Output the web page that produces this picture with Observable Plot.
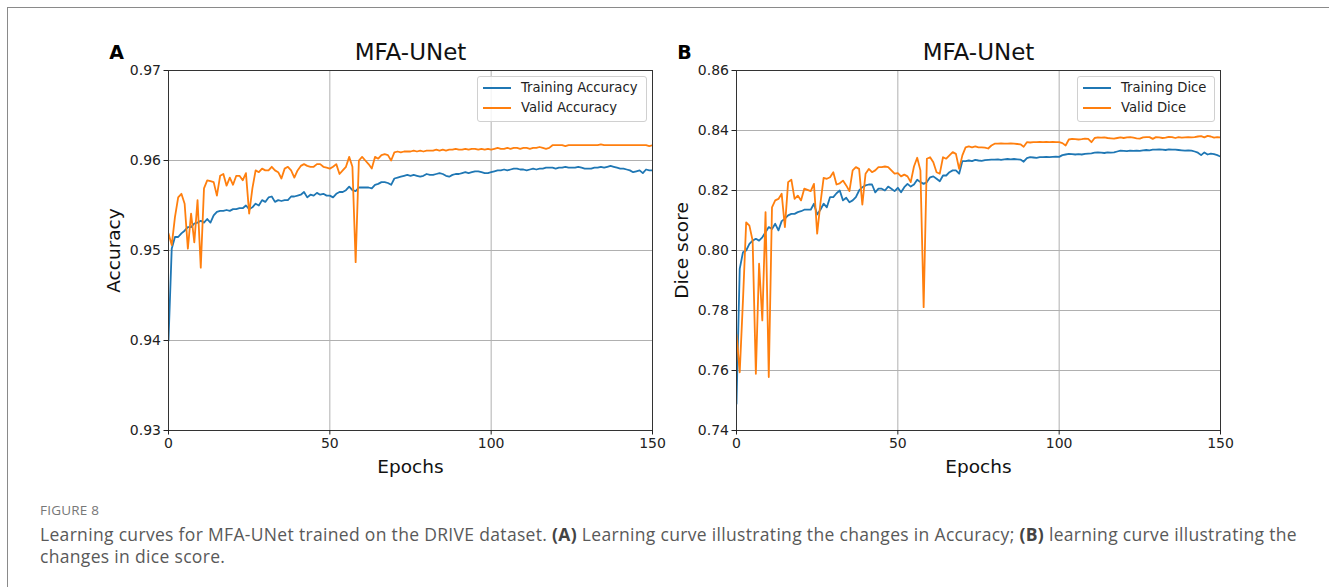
<!DOCTYPE html>
<html>
<head>
<meta charset="utf-8">
<script src="https://cdn.jsdelivr.net/npm/d3@7"></script>
<script src="https://cdn.jsdelivr.net/npm/@observablehq/plot@0.6"></script>
<style>
  html, body { margin: 0; padding: 0; background: #fff; }
  #page { position: relative; width: 1329px; height: 587px; overflow: hidden; background: #fff; }
  #frameBox { position: absolute; left: 7px; top: 7px; right: -10px; bottom: -10px; border-left: 1.5px solid #8a8a8a; border-top: 1.5px solid #8a8a8a; }
  .panel { position: absolute; top: 0; }
  .legend { position: absolute; background: rgba(255,255,255,0.85); border: 1px solid #d0d0d0; border-radius: 3px; font-family: "DejaVu Sans", sans-serif; font-size: 13.2px; color: #222; }
  .legend .row { position: absolute; left: 0; height: 20px; line-height: 20px; white-space: nowrap; }
  .legend .sw { position: absolute; width: 28px; height: 0; border-top: 2px solid; }
  .legend .lab { position: absolute; }
  #figlabel { position: absolute; left: 40px; top: 501px; font-family: "Open Sans", sans-serif; font-size: 13.5px; color: #777; letter-spacing: 0.2px; }
  #caption { position: absolute; left: 40px; top: 523px; font-family: "Open Sans", sans-serif; font-size: 17.5px; line-height: 22px; color: #595959; white-space: nowrap; }
  #caption b { color: #444; }
</style>
</head>
<body>
<div id="page">
  <div id="frameBox"></div>
  <div id="panelA" class="panel" style="left:0px"></div>
  <div id="panelB" class="panel" style="left:664px"></div>
  <div id="legendA" class="legend"></div>
  <div id="legendB" class="legend"></div>
  <div id="figlabel">FIGURE 8</div>
  <div id="caption"></div>
</div>
<script>
// ---- Data ----
const panelLetters = ["A", "B"];
const panelTitle = "MFA-UNet";
const xTicks = [0, 50, 100, 150];
const yTicksA = [0.93, 0.94, 0.95, 0.96, 0.97];
const yTicksB = [0.74, 0.76, 0.78, 0.80, 0.82, 0.84, 0.86];
const seriesNamesA = ["Training Accuracy", "Valid Accuracy"];
const seriesNamesB = ["Training Dice", "Valid Dice"];
const yLabels = ["Accuracy", "Dice score"];
const xLabel = "Epochs";

const trainAcc = [
  0.9400, 0.9502, 0.9515, 0.9515, 0.9519, 0.9522, 0.9526, 0.9526, 0.9530, 0.9531,
  0.9533, 0.9531, 0.9535, 0.9531, 0.9539, 0.9543, 0.9544, 0.9544, 0.9545, 0.9544,
  0.9546, 0.9546, 0.9547, 0.9547, 0.9550, 0.9546, 0.9548, 0.9552, 0.9550, 0.9556,
  0.9554, 0.9559, 0.9560, 0.9554, 0.9556, 0.9555, 0.9556, 0.9556, 0.9560, 0.9560,
  0.9561, 0.9562, 0.9565, 0.9559, 0.9562, 0.9561, 0.9564, 0.9562, 0.9563, 0.9561,
  0.9561, 0.9559, 0.9563, 0.9565, 0.9565, 0.9567, 0.9571, 0.9567, 0.9566, 0.9570,
  0.9570, 0.9570, 0.9570, 0.9569, 0.9573, 0.9574, 0.9576, 0.9576, 0.9575, 0.9573,
  0.9580, 0.9581, 0.9582, 0.9583, 0.9584,
  0.9583, 0.9584, 0.9583, 0.9582, 0.9583, 0.9585,
  0.9584, 0.9584, 0.9585, 0.9586, 0.9585, 0.9583, 0.9582, 0.9584, 0.9585, 0.9585,
  0.9586, 0.9587, 0.9586, 0.9587, 0.9588, 0.9588, 0.9587, 0.9586, 0.9586, 0.9587,
  0.9588, 0.9589, 0.9589, 0.9590, 0.9589, 0.9590, 0.9591, 0.9591, 0.9590, 0.9590,
  0.9589, 0.9590, 0.9591, 0.9590, 0.9591, 0.9591, 0.9592, 0.9592, 0.9592, 0.9591,
  0.9592, 0.9592, 0.9593, 0.9592, 0.9592, 0.9592, 0.9593, 0.9592, 0.9591, 0.9591,
  0.9591, 0.9592, 0.9592, 0.9593, 0.9592, 0.9593, 0.9594, 0.9593, 0.9592, 0.9591,
  0.9591, 0.9590, 0.9589, 0.9587, 0.9588, 0.9589, 0.9586, 0.9590, 0.9589, 0.9589
];

const validAcc = [
  0.9519, 0.9506, 0.9537, 0.9559, 0.9563, 0.9552, 0.9502, 0.9541, 0.9509, 0.9556,
  0.9481, 0.9569, 0.9578, 0.9577, 0.9576, 0.9561, 0.9583, 0.9585, 0.9572, 0.9581,
  0.9573, 0.9583, 0.9583, 0.9578, 0.9586, 0.9541, 0.9569, 0.9589, 0.9587, 0.9591,
  0.9589, 0.9589, 0.9593, 0.9589, 0.9587, 0.9580, 0.9591, 0.9593, 0.9589, 0.9581,
  0.9589, 0.9594, 0.9596, 0.9594, 0.9593, 0.9593, 0.9596, 0.9596, 0.9593, 0.9592,
  0.9591, 0.9593, 0.9596, 0.9585, 0.9589, 0.9593, 0.9604, 0.9593, 0.9487, 0.9600,
  0.9604, 0.9600, 0.9596, 0.9591, 0.9604, 0.9602, 0.9606, 0.9607, 0.9606, 0.9600,
  0.9609, 0.9610, 0.9609, 0.9610, 0.9610,
  0.9610, 0.9611, 0.9610, 0.9611, 0.9610, 0.9611,
  0.9611, 0.9611, 0.9612, 0.9611, 0.9612, 0.9611, 0.9612, 0.9612, 0.9613, 0.9612,
  0.9612, 0.9613, 0.9612, 0.9613, 0.9613, 0.9612, 0.9613, 0.9612, 0.9613, 0.9612,
  0.9613, 0.9614, 0.9613, 0.9613, 0.9614, 0.9613, 0.9614, 0.9614, 0.9613, 0.9614,
  0.9614, 0.9613, 0.9614, 0.9614, 0.9615, 0.9614, 0.9613, 0.9614, 0.9617, 0.9617,
  0.9617, 0.9617, 0.9616, 0.9617, 0.9617, 0.9617, 0.9617, 0.9617, 0.9617, 0.9617,
  0.9617, 0.9617, 0.9617, 0.9618, 0.9617, 0.9617, 0.9617, 0.9617, 0.9617, 0.9617,
  0.9617, 0.9617, 0.9617, 0.9617, 0.9617, 0.9617, 0.9617, 0.9617, 0.9616, 0.9617
];

const trainDice = [
  0.7489, 0.7939, 0.7994, 0.8000, 0.8022, 0.8033, 0.8039, 0.8033, 0.8044, 0.8061,
  0.8078, 0.8072, 0.8089, 0.8067, 0.8098, 0.8106, 0.8117, 0.8122, 0.8122, 0.8128,
  0.8131, 0.8136, 0.8136, 0.8136, 0.8156, 0.8120, 0.8136, 0.8156, 0.8144, 0.8178,
  0.8178, 0.8191, 0.8200, 0.8167, 0.8176, 0.8161, 0.8167, 0.8178, 0.8200, 0.8211,
  0.8217, 0.8220, 0.8220, 0.8194, 0.8206, 0.8206, 0.8200, 0.8213, 0.8206, 0.8198,
  0.8209, 0.8194, 0.8211, 0.8222, 0.8213, 0.8220, 0.8236, 0.8228, 0.8222, 0.8228,
  0.8244, 0.8247, 0.8239, 0.8231, 0.8250, 0.8250, 0.8261, 0.8267, 0.8267, 0.8256,
  0.8298, 0.8298, 0.8300, 0.8298, 0.8302,
  0.8300, 0.8299, 0.8301, 0.8302, 0.8303, 0.8303,
  0.8304, 0.8302, 0.8304, 0.8305, 0.8304, 0.8305, 0.8304, 0.8303, 0.8296, 0.8308,
  0.8311, 0.8310, 0.8309, 0.8311, 0.8311, 0.8312, 0.8311, 0.8312, 0.8313, 0.8312,
  0.8318, 0.8320, 0.8322, 0.8321, 0.8320, 0.8321, 0.8320, 0.8322, 0.8323, 0.8324,
  0.8326, 0.8327, 0.8326, 0.8325, 0.8327, 0.8326, 0.8327, 0.8330, 0.8333, 0.8332,
  0.8331, 0.8333, 0.8332, 0.8333, 0.8332, 0.8334, 0.8335, 0.8334, 0.8336, 0.8336,
  0.8337, 0.8336, 0.8335, 0.8337, 0.8336, 0.8336, 0.8335, 0.8334, 0.8333, 0.8334,
  0.8333, 0.8330, 0.8326, 0.8318, 0.8327, 0.8320, 0.8323, 0.8321, 0.8318, 0.8313
];

const validDice = [
  0.7720, 0.7594, 0.7833, 0.8094, 0.8083, 0.8033, 0.7589, 0.7956, 0.7767, 0.8128,
  0.7578, 0.8144, 0.8167, 0.8172, 0.8189, 0.8078, 0.8228, 0.8236, 0.8172, 0.8183,
  0.8167, 0.8206, 0.8202, 0.8198, 0.8222, 0.8056, 0.8156, 0.8242, 0.8239, 0.8244,
  0.8261, 0.8220, 0.8224, 0.8233, 0.8217, 0.8198, 0.8267, 0.8278, 0.8272, 0.8153,
  0.8256, 0.8272, 0.8261, 0.8267, 0.8278, 0.8278, 0.8280, 0.8278, 0.8267, 0.8256,
  0.8258, 0.8247, 0.8253, 0.8247, 0.8228, 0.8280, 0.8309, 0.8267, 0.7811, 0.8306,
  0.8311, 0.8294, 0.8261, 0.8256, 0.8311, 0.8306, 0.8317, 0.8328, 0.8322, 0.8272,
  0.8317, 0.8344, 0.8347, 0.8344, 0.8347,
  0.8344, 0.8344, 0.8343, 0.8340, 0.8350, 0.8356,
  0.8356, 0.8357, 0.8356, 0.8356, 0.8357, 0.8356, 0.8355, 0.8354, 0.8346, 0.8361,
  0.8360, 0.8361, 0.8361, 0.8362, 0.8361, 0.8362, 0.8361, 0.8362, 0.8361, 0.8361,
  0.8358, 0.8350, 0.8370, 0.8372, 0.8371, 0.8370, 0.8371, 0.8373, 0.8372, 0.8361,
  0.8375, 0.8377, 0.8376, 0.8377, 0.8375, 0.8374, 0.8373, 0.8375, 0.8377, 0.8375,
  0.8377, 0.8378, 0.8376, 0.8374, 0.8373, 0.8377, 0.8378, 0.8378, 0.8372, 0.8378,
  0.8377, 0.8375, 0.8376, 0.8379, 0.8378, 0.8375, 0.8378, 0.8376, 0.8377, 0.8378,
  0.8377, 0.8378, 0.8380, 0.8381, 0.8377, 0.8382, 0.8380, 0.8376, 0.8378, 0.8377
];

const colors = ["#1f77b4", "#ff7f0e"];

// ---- Drawing ----
function makePanel({width, marginLeft, marginRight, letter, yDomain, yTicks, yLabel, train, valid}) {
  const H = 490, mTop = 70, mBottom = 60;
  const toRows = (arr, s) => arr.map((v, i) => ({epoch: i, value: v, series: s}));
  const rows = toRows(train, 0).concat(toRows(valid, 1));
  return Plot.plot({
    width, height: H,
    marginLeft, marginRight, marginTop: mTop, marginBottom: mBottom,
    style: {fontFamily: "DejaVu Sans, sans-serif", color: "#222", background: "transparent", overflow: "visible"},
    x: {domain: [0, 150]},
    y: {domain: yDomain},
    marks: [
      Plot.gridX(xTicks, {stroke: "#b0b0b0", strokeOpacity: 1, strokeWidth: 1}),
      Plot.gridY(yTicks, {stroke: "#b0b0b0", strokeOpacity: 1, strokeWidth: 1}),
      Plot.line(rows.filter(d => d.series === 0), {x: "epoch", y: "value", stroke: colors[0], strokeWidth: 1.8, clip: true}),
      Plot.line(rows.filter(d => d.series === 1), {x: "epoch", y: "value", stroke: colors[1], strokeWidth: 1.8, clip: true}),
      Plot.frame({stroke: "#333", strokeWidth: 1}),
      Plot.axisX({ticks: xTicks, tickSize: 4.5, tickPadding: 3, fontSize: 14, label: null, tickFormat: d => String(d)}),
      Plot.axisY({ticks: yTicks, tickSize: 4.5, tickPadding: 3, fontSize: 14, label: null, tickFormat: d3.format(".2f")}),
      Plot.text([yLabel], {frameAnchor: "left", rotate: -90, dx: -54, textAnchor: "middle", lineAnchor: "middle", fontSize: 18.5, fill: "#111"}),
      Plot.text([xLabel], {frameAnchor: "bottom", dy: 37, textAnchor: "middle", lineAnchor: "middle", fontSize: 18.5, fill: "#111"}),
      Plot.text([panelTitle], {frameAnchor: "top", dy: -18, textAnchor: "middle", lineAnchor: "middle", fontSize: 23, fill: "#111"}),
      Plot.text([letter], {frameAnchor: "top-left", dx: -52, dy: -18, textAnchor: "middle", lineAnchor: "middle", fontSize: 19, fontWeight: "bold", fill: "#000"})
    ]
  });
}

document.getElementById("panelA").appendChild(makePanel({
  width: 664, marginLeft: 168, marginRight: 12, letter: panelLetters[0],
  yDomain: [0.93, 0.97], yTicks: yTicksA, yLabel: yLabels[0], train: trainAcc, valid: validAcc
}));
document.getElementById("panelB").appendChild(makePanel({
  width: 665, marginLeft: 72, marginRight: 109, letter: panelLetters[1],
  yDomain: [0.74, 0.86], yTicks: yTicksB, yLabel: yLabels[1], train: trainDice, valid: validDice
}));

function buildLegend(id, names, left, top, width) {
  const el = document.getElementById(id);
  el.style.left = left + "px"; el.style.top = top + "px";
  el.style.width = width + "px"; el.style.height = "44px";
  names.forEach((n, i) => {
    const row = document.createElement("div");
    row.className = "row";
    row.style.top = (1 + i * 20) + "px";
    row.style.width = width + "px";
    const sw = document.createElement("div");
    sw.className = "sw";
    sw.style.left = "5px"; sw.style.top = "9px";
    sw.style.borderTopColor = colors[i];
    const lab = document.createElement("div");
    lab.className = "lab";
    lab.style.left = "43px";
    lab.textContent = n;
    row.appendChild(sw); row.appendChild(lab);
    el.appendChild(row);
  });
}
buildLegend("legendA", seriesNamesA, 477, 76, 168);
buildLegend("legendB", seriesNamesB, 1077, 76, 136);

const cap = document.getElementById("caption");
cap.innerHTML =
  '<span id="capLine1">Learning curves for MFA-UNet trained on the DRIVE dataset. <b>(A)</b> Learning curve illustrating the changes in Accuracy; <b>(B)</b> learning curve illustrating the</span><br><span id="capLine2">changes in dice score.</span>';
// fit first caption line to the reference's line width
const line1 = document.getElementById("capLine1");
const targetW = 1257;
const w0 = line1.getBoundingClientRect().width;
const nChars = line1.textContent.length;
const ls = (targetW - w0) / nChars;
cap.style.letterSpacing = ls.toFixed(3) + "px";
</script>
</body>
</html>
